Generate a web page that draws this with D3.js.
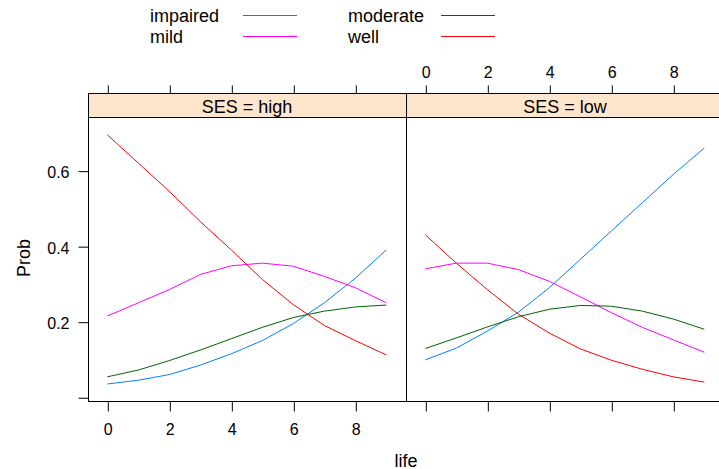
<!DOCTYPE html>
<html>
  <head>
    <meta charset="utf-8">
    <title>Prob by life and SES</title>
    <script src="https://cdn.jsdelivr.net/npm/d3@7"></script>
    <style>
      body { margin: 0; background: #fff; }
      svg text { font-family: "Liberation Sans", Arial, sans-serif; fill: #000; }
      .tick line { stroke: #000; }
    </style>
  </head>
  <body>
    <div id="chart"></div>
    <script>
      // data
      var life = [0, 1, 2, 3, 4, 5, 6, 7, 8, 9];
      var levels = ["impaired", "mild", "moderate", "well"];
      var colors = ["#0080ff", "#ff00ff", "#006400", "#ff0000"];
      var panels = ["high", "low"];
      var xTicks = [0, 2, 4, 6, 8];
      var yTicks = [0, 0.2, 0.4, 0.6];

      var impairedHigh = [0.035, 0.045, 0.060, 0.085, 0.115, 0.150, 0.195, 0.250, 0.315, 0.390];
      var mildHigh     = [0.215, 0.250, 0.285, 0.325, 0.348, 0.355, 0.347, 0.320, 0.290, 0.250];
      var moderateHigh = [0.054, 0.072, 0.097, 0.125, 0.155, 0.185, 0.211, 0.228, 0.239, 0.244];
      var wellHigh     = [0.695, 0.620, 0.545, 0.465, 0.390, 0.312, 0.245, 0.190, 0.150, 0.112];

      var impairedLow = [0.099, 0.130, 0.175, 0.225, 0.290, 0.365, 0.440, 0.515, 0.590, 0.660];
      var mildLow     = [0.340, 0.355, 0.355, 0.338, 0.307, 0.266, 0.224, 0.185, 0.152, 0.119];
      var moderateLow = [0.129, 0.157, 0.186, 0.213, 0.233, 0.243, 0.241, 0.228, 0.207, 0.180];
      var wellLow     = [0.430, 0.355, 0.285, 0.220, 0.170, 0.128, 0.098, 0.074, 0.054, 0.040];

      var seriesByPanel = {
        high: [impairedHigh, mildHigh, moderateHigh, wellHigh],
        low: [impairedLow, mildLow, moderateLow, wellLow]
      };

      var W = 719, H = 469;
      var panelW = 318, panelLeft = 88, panelTop = 117, panelBottom = 401, stripH = 24;

      var svg = d3.select("#chart").append("svg")
        .attr("width", W)
        .attr("height", H);

      var x = d3.scaleLinear().domain([-0.623, 9.635]).range([0, panelW]);
      var y = d3.scaleLinear().domain([-0.01, 0.742]).range([panelBottom, panelTop]);

      var line = d3.line()
        .x(function(d, i) { return x(life[i]); })
        .y(function(d) { return y(d); });

      panels.forEach(function(p, pi) {
        var g = svg.append("g")
          .attr("transform", "translate(" + (panelLeft + pi * panelW) + ",0)");

        // strip
        g.append("rect")
          .attr("x", 0.5).attr("y", panelTop - stripH + 0.5)
          .attr("width", panelW).attr("height", stripH)
          .attr("fill", "#ffe5cc").attr("stroke", "#000");
        g.append("text")
          .attr("x", panelW / 2).attr("y", panelTop - 4)
          .attr("text-anchor", "middle")
          .style("font-size", "18px")
          .text("SES = " + p);

        // lines
        seriesByPanel[p].forEach(function(vals, si) {
          g.append("path")
            .datum(vals)
            .attr("d", line)
            .attr("fill", "none")
            .attr("stroke", colors[si])
            .attr("stroke-width", 1);
        });

        // panel border
        g.append("rect")
          .attr("x", 0.5).attr("y", panelTop + 0.5)
          .attr("width", panelW).attr("height", panelBottom - panelTop)
          .attr("fill", "none").attr("stroke", "#000");

        // bottom axis
        var bAxis = d3.axisBottom(x).tickValues(xTicks).tickSize(10).tickPadding(12)
          .tickFormat(pi === 0 ? d3.format("d") : function() { return ""; });
        var bg = g.append("g").attr("transform", "translate(0.5," + (panelBottom + 0.5) + ")").call(bAxis);
        bg.select(".domain").remove();
        bg.selectAll("text").style("font-size", "16px");

        // top axis
        var tAxis = d3.axisTop(x).tickValues(xTicks).tickSize(8).tickPadding(8)
          .tickFormat(pi === 1 ? d3.format("d") : function() { return ""; });
        var tg = g.append("g").attr("transform", "translate(0.5," + (panelTop - stripH + 0.5) + ")").call(tAxis);
        tg.select(".domain").remove();
        tg.selectAll("text").style("font-size", "16px");
      });

      // left axis
      var lAxis = d3.axisLeft(y).tickValues(yTicks).tickSize(10).tickPadding(9)
        .tickFormat(function(d) { return d === 0 ? "" : d3.format(".1f")(d); });
      var lg = svg.append("g").attr("transform", "translate(" + (panelLeft + 0.5) + ",0.5)").call(lAxis);
      lg.select(".domain").remove();
      lg.selectAll("text").style("font-size", "16px").attr("dy", "0.4em");

      // axis titles
      svg.append("text")
        .attr("x", panelLeft + panelW).attr("y", 467)
        .attr("text-anchor", "middle")
        .style("font-size", "18px")
        .text("life");
      svg.append("text")
        .attr("transform", "translate(30,258) rotate(-90)")
        .attr("text-anchor", "middle")
        .style("font-size", "18px")
        .text("Prob");

      // legend
      var leg = svg.append("g");
      levels.forEach(function(name, i) {
        var col = Math.floor(i / 2), row = i % 2;
        var lx = 150 + col * 198, ly = 22 + row * 21;
        leg.append("text")
          .attr("x", lx).attr("y", ly)
          .style("font-size", "18px")
          .text(name);
        leg.append("line")
          .attr("x1", lx + 93).attr("x2", lx + 147)
          .attr("y1", ly - 6.5).attr("y2", ly - 6.5)
          .attr("stroke", colors[i]).attr("stroke-width", 1);
      });
    </script>
  </body>
</html>
